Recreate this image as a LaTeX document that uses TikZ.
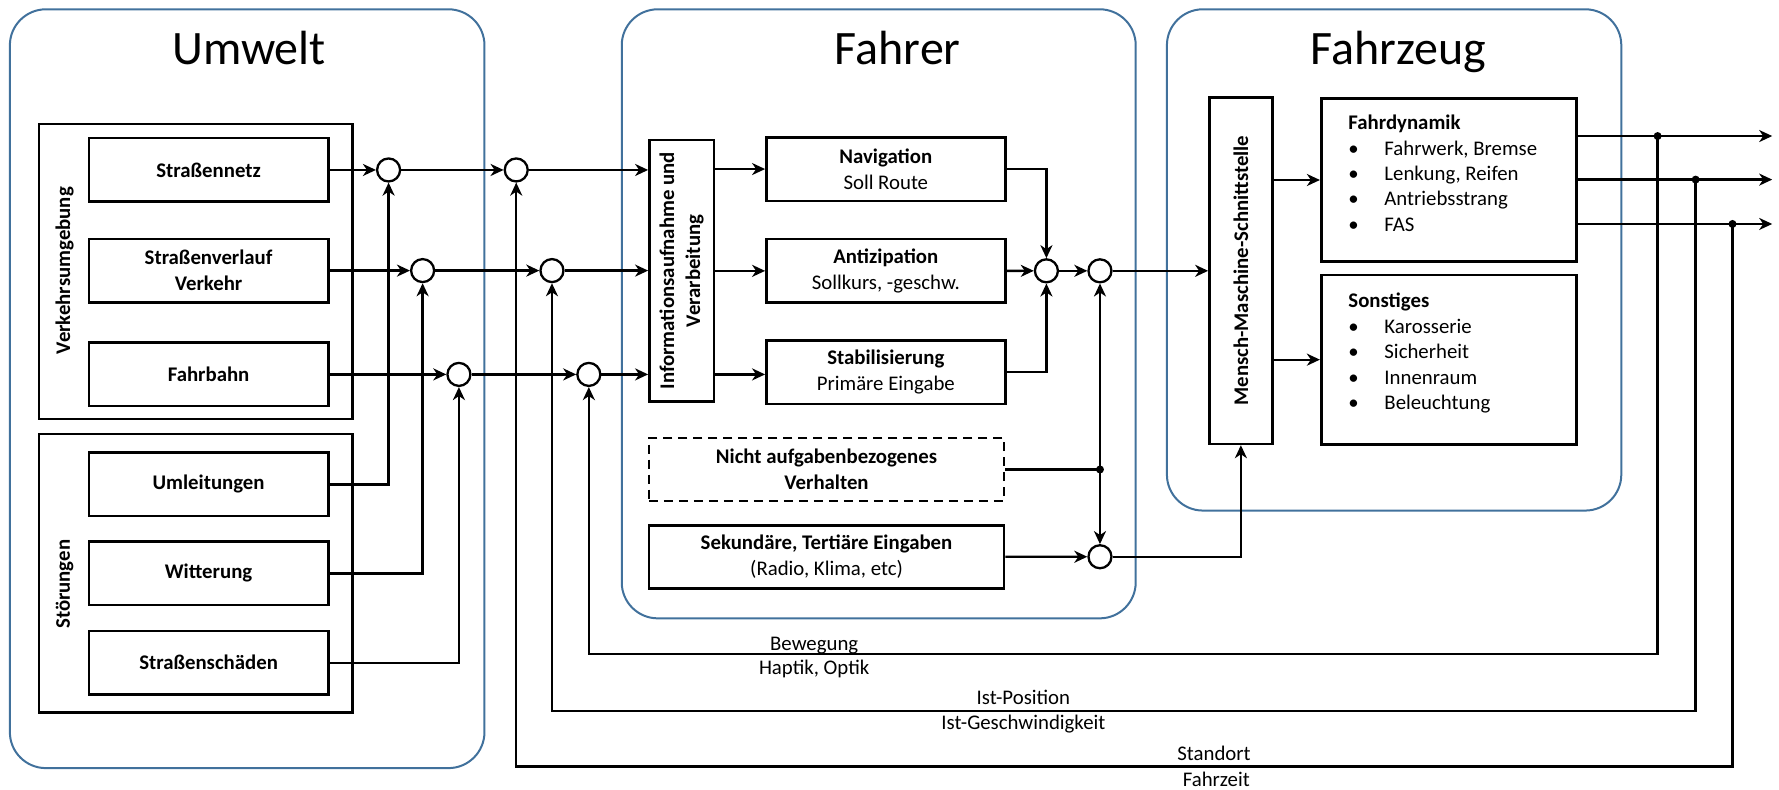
\documentclass[tikz,border=0pt]{standalone}
\usepackage{fontspec}
\setmainfont{Carlito}
\usetikzlibrary{arrows.meta,fit}
\definecolor{frameblue}{RGB}{65,113,156}
\newcommand{\fs}{\fontsize{20.8}{26}\selectfont}
\newcommand{\lfs}{\fontsize{20.8}{25.4}\selectfont}
\newcommand{\tfs}{\fontsize{48}{56}\selectfont}
\begin{document}
\begin{tikzpicture}[x=1.1346pt,y=-1.1346pt,
  >={Stealth[length=13pt,width=12pt,inset=4pt]},
  line width=2.3pt,
  group/.style={draw=frameblue,line width=2pt,rounded corners=36pt,inner sep=0pt},
  title/.style={font=\tfs,anchor=base,inner sep=0pt},
  sz/.style 2 args={minimum width={#1*1.1346pt},minimum height={#2*1.1346pt}},
  frame/.style={draw,line width=2.6pt,inner sep=0pt},
  box/.style={draw,line width=2.6pt,inner sep=0pt,align=center,font=\fs},
  bbox/.style={box,font=\fs\bfseries},
  circ/.style={circle,draw,line width=2.3pt,minimum size=23pt,inner sep=0pt,fill=white},
  jdot/.style={circle,fill,inner sep=0pt,minimum size=8pt},
  lbl/.style={font=\fs,anchor=base,inner sep=0pt},
  vlbl/.style={font=\fs\bfseries,rotate=90,inner sep=0pt}]
\useasboundingbox (0,0) rectangle (1568,696);

% groups
\node[group,fit={(8.7,8.2)(427,677)}] (umwelt) {};
\node[group,fit={(548,8.2)(1001,545)}] (fahrer) {};
\node[group,fit={(1028.5,8.2)(1429,450)}] (fahrzeug) {};
\node[title] (tu) at (219.5,56.7) {Umwelt};
\node[title] (tf) at (791.3,56.7) {Fahrer};
\node[title] (tz) at (1232.4,56.7) {Fahrzeug};

% Umwelt
\node[frame,sz={276.4}{260}] (vu) at (172.7,239.3) {};
\node[frame,sz={276.4}{245.5}] (st) at (172.7,505.25) {};
\node[vlbl] (vul) at (57,238.5) {Verkehrsumgebung};
\node[vlbl] (stl) at (57,515) {Störungen};
\node[bbox,sz={210.9}{56}] (sn) at (183.85,149.8) {Straßennetz};
\node[bbox,sz={210.9}{56}] (sv) at (183.85,238.5) {Straßenverlauf\\Verkehr};
\node[bbox,sz={210.9}{56}] (fb) at (183.85,330) {Fahrbahn};
\node[bbox,sz={210.9}{56}] (ul) at (183.85,426.9) {Umleitungen};
\node[bbox,sz={210.9}{56}] (wi) at (183.85,505.4) {Witterung};
\node[bbox,sz={210.9}{56}] (ss) at (183.85,584.1) {Straßenschäden};

% summing circles
\node[circ] (c11) at (342.5,149.8) {};
\node[circ] (c12) at (372.5,238.5) {};
\node[circ] (c13) at (404.5,330) {};
\node[circ] (c21) at (455,149.8) {};
\node[circ] (c22) at (486.5,238.5) {};
\node[circ] (c23) at (519,330) {};

% Fahrer
\node[bbox,rotate=90,sz={230.6}{56.8}] (info) at (600.8,238.7) {Informationsaufnahme und\\Verarbeitung};
\node[box,sz={210.5}{56}] (nav) at (780.75,149) {\textbf{Navigation}\\Soll Route};
\node[box,sz={210.5}{56}] (ant) at (780.75,238.75) {\textbf{Antizipation}\\Sollkurs, -geschw.};
\node[box,sz={210.5}{56}] (stab) at (780.75,328) {\textbf{Stabilisierung}\\Primäre Eingabe};
\node[bbox,dash pattern=on 9pt off 6pt,sz={313}{55.6}] (nicht) at (728.5,413.8) {Nicht aufgabenbezogenes\\Verhalten};
\node[box,sz={313}{55.6}] (sek) at (728.5,490.75) {\textbf{Sekundäre, Tertiäre Eingaben}\\(Radio, Klima, etc)};
\node[circ] (s1) at (922.3,238.7) {};
\node[circ] (s2) at (969.5,238.7) {};
\node[circ] (s3) at (969.5,490.7) {};
\node[jdot] (j0) at (969.5,413.8) {};

% Fahrzeug
\node[bbox,rotate=90,sz={305.5}{55.4}] (mms) at (1093.7,238.5) {Mensch-Maschine-Schnittstelle};
\node[frame,sz={224.9}{143.9}] (fd) at (1276.95,158.65) {};
\node[frame,sz={224.9}{149.2}] (so) at (1276.95,317) {};
\node[anchor=north west,align=left,inner sep=0pt,font=\lfs] (fdt) at (1187.5,100.5)
  {\textbf{Fahrdynamik}\\\makebox[36pt][l]{\textbullet}Fahrwerk, Bremse\\\makebox[36pt][l]{\textbullet}Lenkung, Reifen\\\makebox[36pt][l]{\textbullet}Antriebsstrang\\\makebox[36pt][l]{\textbullet}FAS};
\node[anchor=north west,align=left,inner sep=0pt,font=\lfs] (sot) at (1187.5,257.5)
  {\textbf{Sonstiges}\\\makebox[36pt][l]{\textbullet}Karosserie\\\makebox[36pt][l]{\textbullet}Sicherheit\\\makebox[36pt][l]{\textbullet}Innenraum\\\makebox[36pt][l]{\textbullet}Beleuchtung};

% junctions and ends
\node[jdot] (d1) at (1461,119.9) {};
\node[jdot] (d2) at (1494.5,158.3) {};
\node[jdot] (d3) at (1527,197.4) {};
\coordinate (o1) at (1562,119.9);
\coordinate (o2) at (1562,158.3);
\coordinate (o3) at (1562,197.4);
\coordinate (b1) at (1461,576.5);
\coordinate (b2) at (1494.5,626.4);
\coordinate (b3) at (1527,675.7);

% Umwelt connectors
\draw[->] (sn.east) -- (c11.west);
\draw[->] (sv.east) -- (c12.west);
\draw[->] (fb.east) -- (c13.west);
\draw[->] (ul.east) -| (c11.south);
\draw[->] (wi.east) -| (c12.south);
\draw[->] (ss.east) -| (c13.south);
\draw[->] (c11.east) -- (c21.west);
\draw[->] (c12.east) -- (c22.west);
\draw[->] (c13.east) -- (c23.west);
\draw[->] (c21.east) -- (c21 -| info.north);
\draw[->] (c22.east) -- (c22 -| info.north);
\draw[->] (c23.east) -- (c23 -| info.north);

% Fahrer connectors
\draw[->] (nav.west -| info.south) -- (nav.west);
\draw[->] (ant.west -| info.south) -- (ant.west);
\draw[->] (c23 -| info.south) -- (c23 -| stab.west);
\draw[->] (nav.east) -| (s1.north);
\draw[->] (stab.east) -| (s1.south);
\draw[->] (ant.east) -- (s1.west);
\draw[->] (s1.east) -- (s2.west);
\draw[->] (s2.east) -- (s2 -| mms.north);
\draw (nicht.east) -- (j0.center);
\draw[->] (j0.center) -- (s2.south);
\draw[->] (j0.center) -- (s3.north);
\draw[->] (sek.east) -- (s3.west);
\draw[->] (s3.east) -| (mms.west);

% Fahrzeug connectors
\draw[->] (fd.west -| mms.south) -- (fd.west);
\draw[->] (so.west -| mms.south) -- (so.west);
\draw[->] (d1 -| fd.east) -- (o1);
\draw[->] (d2 -| fd.east) -- (o2);
\draw[->] (d3 -| fd.east) -- (o3);

% feedback
\draw[->] (d1.center) -- (b1) -| (c23.south);
\draw[->] (d2.center) -- (b2) -| (c22.south);
\draw[->] (d3.center) -- (b3) -| (c21.south);

% feedback labels
\node[lbl] (l1) at (717.6,572.9) {Bewegung};
\node[lbl] (l2) at (717.6,594.5) {Haptik, Optik};
\node[lbl] (l3) at (902,620.5) {Ist-Position};
\node[lbl] (l4) at (902,643.1) {Ist-Geschwindigkeit};
\node[lbl] (l5) at (1070,670.6) {Standort};
\node[lbl] (l6) at (1072,693.3) {Fahrzeit};
\end{tikzpicture}
\end{document}
